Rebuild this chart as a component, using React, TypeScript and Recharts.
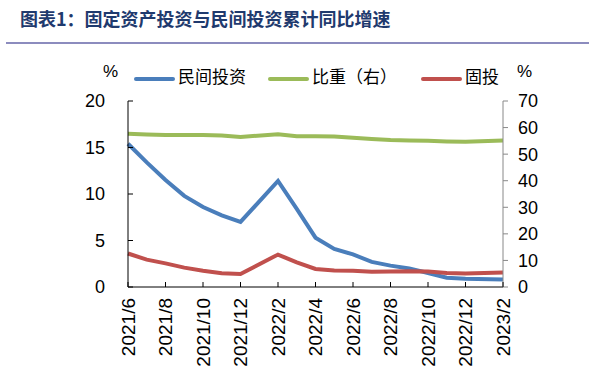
import React from 'react';
import { ComposedChart, Line, XAxis, YAxis, Legend } from 'recharts';

const months = ['2021/6', '2021/7', '2021/8', '2021/9', '2021/10', '2021/11', '2021/12', '2022/1', '2022/2', '2022/3', '2022/4', '2022/5', '2022/6', '2022/7', '2022/8', '2022/9', '2022/10', '2022/11', '2022/12', '2023/1', '2023/2'];
const privateInv = [15.4, 13.4, 11.5, 9.8, 8.6, 7.7, 7.0, null, 11.4, 8.4, 5.3, 4.1, 3.5, 2.7, 2.3, 2.0, 1.5, 1.0, 0.9, null, 0.8];
const share = [57.7, 57.4, 57.2, 57.2, 57.2, 57.0, 56.5, null, 57.5, 56.7, 56.7, 56.6, 56.2, 55.7, 55.3, 55.1, 55.0, 54.8, 54.7, null, 55.1];
const fai = [12.6, 10.3, 8.9, 7.3, 6.1, 5.2, 4.9, null, 12.2, 9.3, 6.8, 6.2, 6.1, 5.7, 5.8, 5.9, 5.8, 5.3, 5.1, null, 5.5];
const leftTicks = [0, 5, 10, 15, 20];
const rightTicks = [0, 10, 20, 30, 40, 50, 60, 70];

const title = '图表1：固定资产投资与民间投资累计同比增速';
const names = { privateInv: '民间投资', share: '比重（右）', fai: '固投' };
const colors = { privateInv: '#4A7EBB', share: '#9BBB59', fai: '#C0504D' };

const data = months.map((m, i) => ({
  month: m,
  privateInv: privateInv[i],
  share: share[i],
  fai: fai[i],
}));

const FONT = '"Liberation Sans", Arial, "Noto Sans CJK SC", sans-serif';

const XTick = (props: any) => {
  const { x, y, payload } = props;
  const off = payload && typeof payload.offset === 'number' ? payload.offset : 0;
  return (
    <g>
      <line x1={x - off} x2={x - off} y1={y - 5} y2={y} stroke="#000" strokeWidth={1} />
      <text
        x={x}
        y={y + 11}
        transform={`rotate(-90, ${x}, ${y + 11})`}
        textAnchor="end"
        dominantBaseline="central"
        fontSize={19}
        fill="#000"
        fontFamily={FONT}
      >
        {payload.value}
      </text>
    </g>
  );
};

const LeftTick = (props: any) => {
  const { x, y, payload } = props;
  return (
    <g>
      <line x1={x} x2={x + 5} y1={y} y2={y} stroke="#000" strokeWidth={1} />
      <text x={x - 23} y={y} textAnchor="end" dominantBaseline="central" fontSize={18} fill="#000" fontFamily={FONT}>
        {payload.value}
      </text>
    </g>
  );
};

const legendItems = [
  { key: 'privateInv', lineLeft: 134, textLeft: 178 },
  { key: 'share', lineLeft: 268, textLeft: 312 },
  { key: 'fai', lineLeft: 421, textLeft: 465 },
];

const renderLegend = () => (
  <div style={{ position: 'relative', width: 589, height: 32, fontFamily: FONT, fontSize: 17, color: '#000' }}>
    <span style={{ position: 'absolute', left: 103, top: 0, lineHeight: '18px' }}>%</span>
    <span style={{ position: 'absolute', left: 517, top: 0, lineHeight: '18px' }}>%</span>
    {legendItems.map((it) => (
      <React.Fragment key={it.key}>
        <span
          style={{
            position: 'absolute',
            left: it.lineLeft,
            top: 14,
            width: 41,
            height: 4,
            borderRadius: 2,
            background: (colors as any)[it.key],
          }}
        />
        <span style={{ position: 'absolute', left: it.textLeft, top: 6, lineHeight: '18px', whiteSpace: 'nowrap' }}>
          {(names as any)[it.key]}
        </span>
      </React.Fragment>
    ))}
  </div>
);

export default function App() {
  return (
    <div style={{ position: 'absolute', left: 0, top: 0, width: 589, height: 380, background: '#fff' }}>
      <div
        style={{
          position: 'absolute',
          left: 20,
          top: 9,
          fontFamily: '"Noto Sans CJK SC", sans-serif',
          fontWeight: 700,
          fontSize: 18,
          lineHeight: '18px',
          color: '#1F3A6E',
          whiteSpace: 'nowrap',
        }}
      >
        {title}
      </div>
      <div style={{ position: 'absolute', left: 6, top: 42, width: 583, height: 2, background: '#8C8CBE' }} />
      <div style={{ position: 'absolute', left: 0, top: 0 }}>
        <ComposedChart
          width={589}
          height={380}
          data={data}
          margin={{ top: 101, right: 0, bottom: 0, left: 0 }}
          style={{ fontFamily: FONT }}
        >
          <XAxis
            dataKey="month"
            interval={1}
            height={93}
            tickSize={0}
            tickMargin={0}
            tickLine={false}
            axisLine={{ stroke: '#000', strokeWidth: 1 }}
            tick={<XTick />}
          />
          <YAxis
            yAxisId="left"
            orientation="left"
            width={128}
            domain={[0, 20]}
            ticks={leftTicks}
            tickSize={0}
            tickMargin={0}
            tickLine={false}
            axisLine={{ stroke: '#000', strokeWidth: 1 }}
            tick={<LeftTick />}
            allowDataOverflow
          />
          <YAxis
            yAxisId="right"
            orientation="right"
            width={86}
            domain={[0, 70]}
            ticks={rightTicks}
            tickSize={5}
            tickMargin={10}
            tickLine={{ stroke: '#888', strokeWidth: 1 }}
            axisLine={{ stroke: '#888', strokeWidth: 1 }}
            tick={{ fontSize: 18, fill: '#000', fontFamily: FONT }}
            allowDataOverflow
          />
          <Legend
            verticalAlign="middle"
            align="center"
            layout="horizontal"
            content={renderLegend}
            wrapperStyle={{ top: 63, left: 0, width: 589, height: 32 }}
          />
          <Line
            yAxisId="left"
            dataKey="privateInv"
            name={names.privateInv}
            stroke={colors.privateInv}
            strokeWidth={4}
            dot={false}
            connectNulls
            isAnimationActive={false}
            type="linear"
          />
          <Line
            yAxisId="right"
            dataKey="share"
            name={names.share}
            stroke={colors.share}
            strokeWidth={4}
            dot={false}
            connectNulls
            isAnimationActive={false}
            type="linear"
          />
          <Line
            yAxisId="right"
            dataKey="fai"
            name={names.fai}
            stroke={colors.fai}
            strokeWidth={4}
            dot={false}
            connectNulls
            isAnimationActive={false}
            type="linear"
          />
        </ComposedChart>
      </div>
    </div>
  );
}
